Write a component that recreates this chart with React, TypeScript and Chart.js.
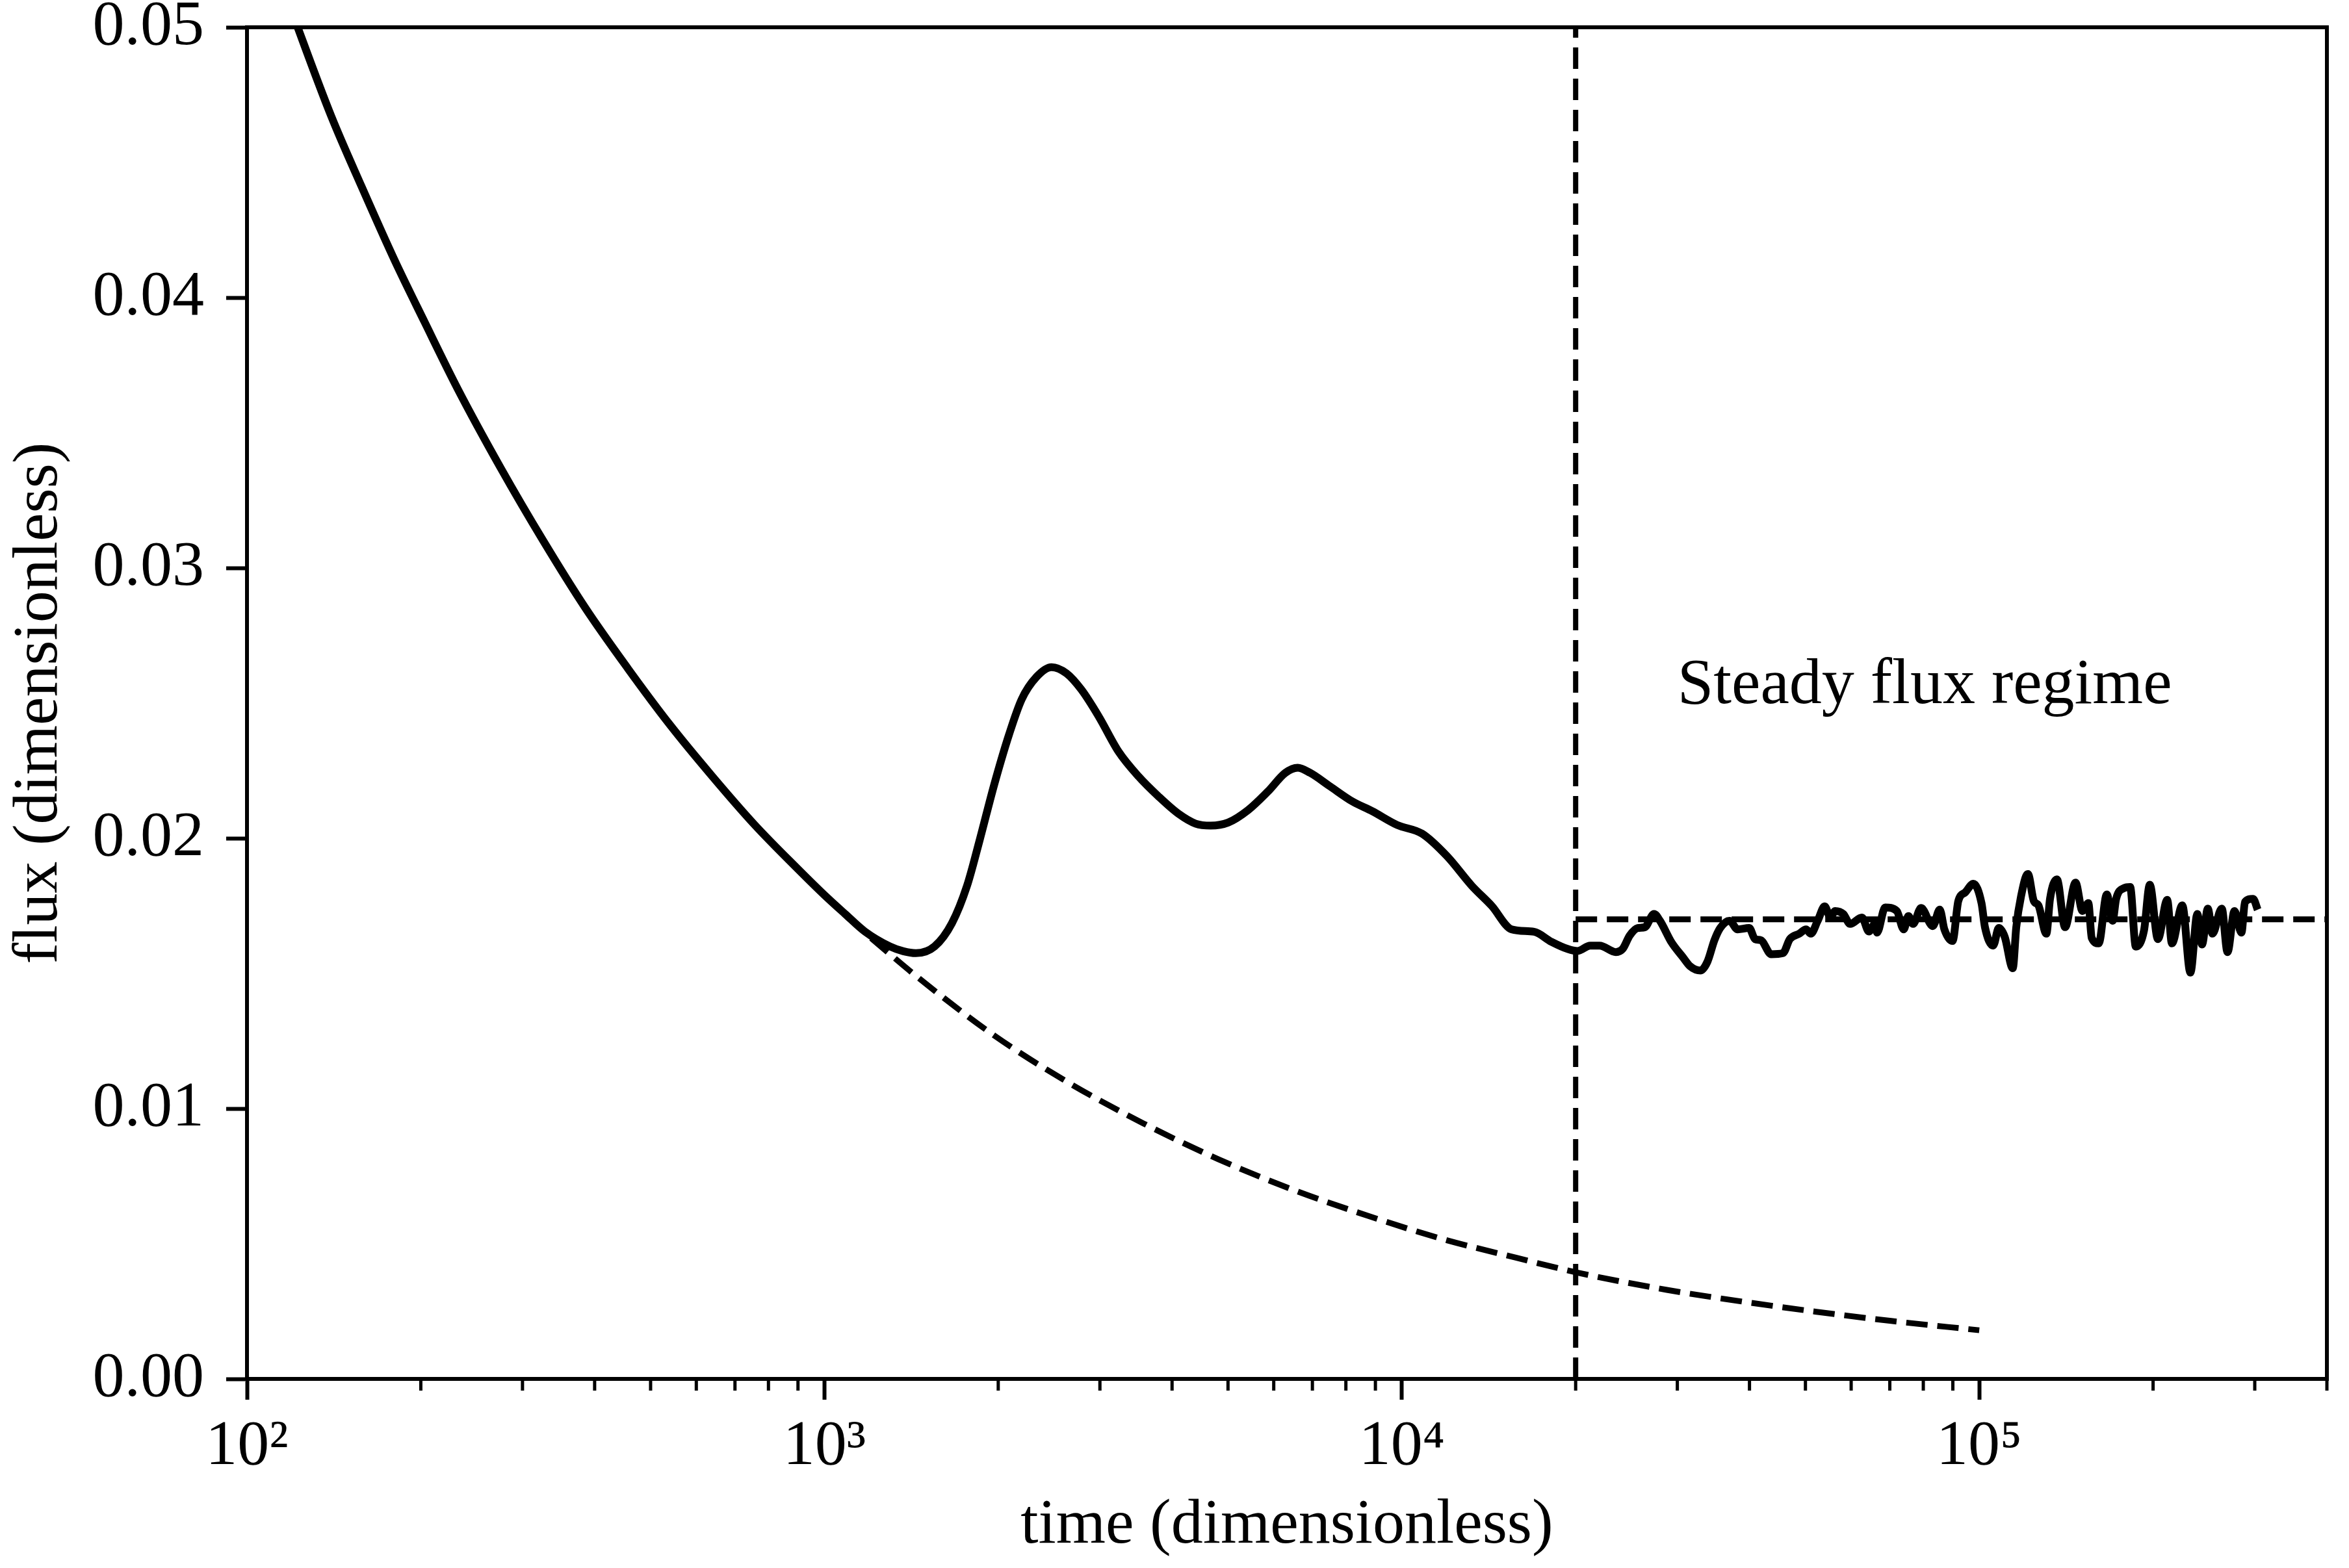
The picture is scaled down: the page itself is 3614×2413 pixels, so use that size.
import { useEffect, useRef } from 'react'
import { Chart, registerables } from 'chart.js'

Chart.register(...registerables)

// simulated flux
const timeSolid = [
  115, 122.4, 140, 158, 180, 203, 232, 275, 326, 386, 456, 540, 639, 757, 896, 1000, 1086, 1175, 1298, 1370,
  1440, 1552, 1663, 1766, 1855, 1969, 2089, 2196, 2330, 2474, 2626, 2786, 2987, 3233, 3499, 3789, 4102, 4396,
  4667, 5002, 5415, 5862, 6283, 6602, 6937, 7511, 8213, 8889, 9818, 10840, 11970, 13220, 14310, 15500, 16940,
  18160, 19400, 20150, 21200, 22000, 23480, 24130, 24810, 25620, 26350, 27340, 27990, 29310, 30700, 31560,
  32900, 33820, 34780, 35590, 36930, 38150, 39960, 40890, 41850, 43630, 45710, 46990, 48770, 50130, 51070,
  52510, 53990, 55250, 56290, 58140, 59770, 62630, 64400, 66210, 66520, 68710, 71970, 73990, 75380, 76790,
  79300, 83080, 85420, 87020, 89890, 91990, 94580, 97680, 100900, 102300, 105700, 108100, 110700, 114300,
  115900, 118100, 121400, 124300, 126600, 130700, 132600, 136300, 140800, 146800, 150900, 154500, 156600,
  161000, 166300, 170200, 172600, 178300, 182500, 186700, 192900, 197400, 203900, 211600, 215600, 224700,
  232100, 238600, 243100, 248800, 253400, 263000, 269100, 276700, 284500, 288500, 298000, 303500,
]
const fluxSolid = [
  0.0516, 0.05, 0.0467, 0.0441, 0.0414, 0.0391, 0.0366, 0.0337, 0.031, 0.0285, 0.0263, 0.0242, 0.0223,
  0.0205, 0.0189, 0.0179, 0.0172, 0.01655, 0.016, 0.01582, 0.01575, 0.016, 0.01686, 0.01824, 0.01989, 0.022,
  0.02385, 0.02514, 0.02597, 0.02633, 0.0261, 0.0255, 0.0245, 0.0232, 0.02229, 0.02155, 0.02091, 0.02054,
  0.02047, 0.02058, 0.02104, 0.02173, 0.02242, 0.02261, 0.02242, 0.02192, 0.02136, 0.021, 0.02049, 0.02017,
  0.01934, 0.01824, 0.0175, 0.01663, 0.01654, 0.01617, 0.0159, 0.01583, 0.01603, 0.01603, 0.01579, 0.01591,
  0.0164, 0.01668, 0.01671, 0.0172, 0.01695, 0.01615, 0.01559, 0.01527, 0.01511, 0.01543, 0.01623, 0.01668,
  0.01695, 0.01663, 0.01668, 0.01627, 0.01623, 0.01571, 0.01575, 0.01627, 0.01647, 0.01663, 0.01647, 0.01695,
  0.01748, 0.01707, 0.01731, 0.0172, 0.01683, 0.01707, 0.01655, 0.01688, 0.01651, 0.01744, 0.01731, 0.01663,
  0.01712, 0.01683, 0.01742, 0.01675, 0.01736, 0.01663, 0.0162, 0.01768, 0.018, 0.01832, 0.0176, 0.01671,
  0.01603, 0.01668, 0.01635, 0.01519, 0.01671, 0.01784, 0.01868, 0.01768, 0.01752, 0.01647, 0.01776, 0.01848,
  0.01671, 0.01836, 0.01731, 0.0176, 0.01631, 0.01611, 0.01792, 0.01695, 0.01776, 0.01816, 0.0182, 0.01599,
  0.01659, 0.01828, 0.01627, 0.01772, 0.01611, 0.01752, 0.01503, 0.0172, 0.01607, 0.0174, 0.01647, 0.0174,
  0.01579, 0.01731, 0.01651, 0.01764, 0.01776, 0.01736,
]

// early-time decay (dashed)
const timeTheory = [
  1205, 1462, 1969, 2651, 3570, 4808, 6473, 8718, 11740, 15800, 20060, 28660, 38600, 51980, 70000, 100000,
]
const fluxTheory = [
  0.0163, 0.0148, 0.0127, 0.01095, 0.00945, 0.00813, 0.007, 0.00604, 0.00518, 0.00448, 0.00394, 0.0033,
  0.00287, 0.00249, 0.00215, 0.0018,
]

const steadyStart = 20000
const steadyFlux = 0.017
const xMin = 100
const xMax = 400000
const yMin = 0
const yMax = 0.05

const xMajorTicks = [100, 1000, 10000, 100000]
const xMinorTicks = [
  200, 300, 400, 500, 600, 700, 800, 900, 2000, 3000, 4000, 5000, 6000, 7000, 8000, 9000, 20000, 30000,
  40000, 50000, 60000, 70000, 80000, 90000, 200000, 300000, 400000,
]
const yTicks = [0, 0.01, 0.02, 0.03, 0.04, 0.05]
const superscripts: Record<number, string> = { 2: '²', 3: '³', 4: '⁴', 5: '⁵' }

const annotationText = 'Steady flux regime'
const annotationX = 30000
const annotationY = 0.025

const FONT = "'Liberation Serif', 'DejaVu Serif', serif"
const W = 3614
const H = 2413

const framePlugin = {
  id: 'frame',
  afterDraw(chart: Chart) {
    const { ctx, chartArea } = chart
    const x = chart.scales.x
    ctx.save()
    ctx.strokeStyle = '#000'
    // minor ticks on the log axis
    ctx.lineWidth = 5
    for (const v of xMinorTicks) {
      const px = x.getPixelForValue(v)
      ctx.beginPath()
      ctx.moveTo(px, chartArea.bottom)
      ctx.lineTo(px, chartArea.bottom + 18)
      ctx.stroke()
    }
    // top and right spines
    ctx.lineWidth = 6
    ctx.beginPath()
    ctx.moveTo(chartArea.left - 3, chartArea.top)
    ctx.lineTo(chartArea.right, chartArea.top)
    ctx.lineTo(chartArea.right, chartArea.bottom + 3)
    ctx.stroke()
    // annotation
    ctx.fillStyle = '#000'
    ctx.font = `100px ${FONT}`
    ctx.textAlign = 'left'
    ctx.textBaseline = 'alphabetic'
    ctx.fillText(annotationText, x.getPixelForValue(annotationX), chart.scales.y.getPixelForValue(annotationY))
    ctx.restore()
  },
}

export default function App() {
  const canvasRef = useRef<HTMLCanvasElement>(null)
  const chartRef = useRef<Chart | null>(null)

  useEffect(() => {
    if (!canvasRef.current) return
    if (chartRef.current) {
      chartRef.current.destroy()
      chartRef.current = null
    }

    chartRef.current = new Chart(canvasRef.current, {
      type: 'line',
      data: {
        datasets: [
          {
            label: 'flux',
            data: timeSolid.map((t, i) => ({ x: t, y: fluxSolid[i] })),
            borderColor: '#000',
            borderWidth: 12,
            pointRadius: 0,
            cubicInterpolationMode: 'monotone',
            borderJoinStyle: 'round',
            clip: 0,
          },
          {
            label: 'early decay',
            data: timeTheory.map((t, i) => ({ x: t, y: fluxTheory[i] })),
            borderColor: '#000',
            borderWidth: 9,
            borderDash: [33, 15],
            pointRadius: 0,
            cubicInterpolationMode: 'monotone',
            clip: 0,
          },
          {
            label: 'start of steady regime',
            data: [
              { x: steadyStart, y: yMin },
              { x: steadyStart, y: yMax },
            ],
            borderColor: '#000',
            borderWidth: 8,
            borderDash: [33, 15],
            pointRadius: 0,
            clip: 0,
          },
          {
            label: 'steady flux',
            data: [
              { x: steadyStart, y: steadyFlux },
              { x: xMax, y: steadyFlux },
            ],
            borderColor: '#000',
            borderWidth: 9,
            borderDash: [33, 15],
            pointRadius: 0,
            clip: 0,
          },
        ],
      },
      options: {
        animation: false,
        responsive: true,
        maintainAspectRatio: false,
        layout: { padding: { top: 42, right: 34, left: 0, bottom: 0 } },
        plugins: {
          legend: { display: false },
          tooltip: { enabled: false },
        },
        scales: {
          x: {
            type: 'logarithmic',
            min: xMin,
            max: xMax,
            afterBuildTicks: (scale) => {
              scale.ticks = xMajorTicks.map((v) => ({ value: v }))
            },
            afterFit: (scale) => {
              scale.height = H - 2122
              scale.paddingLeft = 0
              scale.paddingRight = 0
            },
            ticks: {
              autoSkip: false,
              maxRotation: 0,
              padding: 14,
              color: '#000',
              font: { family: FONT, size: 98 },
              callback: (value) => '10' + superscripts[Math.round(Math.log10(Number(value)))],
            },
            grid: {
              drawOnChartArea: false,
              drawTicks: true,
              tickLength: 32,
              tickWidth: 6,
              tickColor: '#000',
            },
            border: { display: true, color: '#000', width: 6 },
            title: {
              display: true,
              text: 'time (dimensionless)',
              color: '#000',
              font: { family: FONT, size: 98 },
              padding: { top: 0, bottom: 6 },
            },
          },
          y: {
            type: 'linear',
            min: yMin,
            max: yMax,
            afterBuildTicks: (scale) => {
              scale.ticks = yTicks.map((v) => ({ value: v }))
            },
            afterFit: (scale) => {
              scale.width = 380
              scale.paddingTop = 0
              scale.paddingBottom = 0
            },
            ticks: {
              padding: 34,
              color: '#000',
              font: { family: FONT, size: 98 },
              callback: (value) => Number(value).toFixed(2),
            },
            grid: {
              drawOnChartArea: false,
              drawTicks: true,
              tickLength: 32,
              tickWidth: 6,
              tickColor: '#000',
            },
            border: { display: true, color: '#000', width: 6 },
            title: {
              display: true,
              text: 'flux (dimensionless)',
              color: '#000',
              font: { family: FONT, size: 98 },
              padding: { top: 2, bottom: 0 },
            },
          },
        },
      },
      plugins: [framePlugin],
    })

    return () => {
      if (chartRef.current) {
        chartRef.current.destroy()
        chartRef.current = null
      }
    }
  }, [])

  return (
    <div style={{ position: 'fixed', left: 0, top: 0, width: W, height: H, background: '#fff' }}>
      <canvas ref={canvasRef} />
    </div>
  )
}
